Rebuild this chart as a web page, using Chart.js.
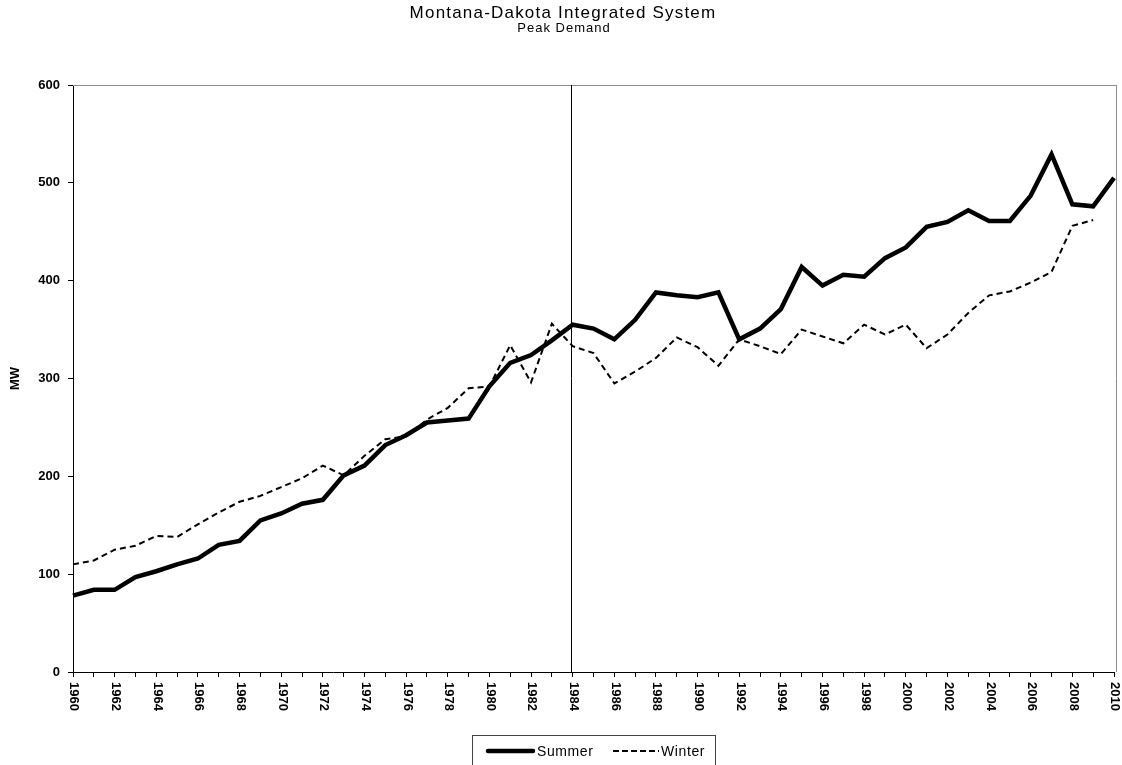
<!DOCTYPE html>
<html>
<head>
<meta charset="utf-8">
<script src="https://cdn.jsdelivr.net/npm/chart.js@4.4.1/dist/chart.umd.min.js"></script>
<style>
html,body{margin:0;padding:0;background:#fff;}
canvas{display:block;}
</style>
</head>
<body>
<canvas id="c" width="1122" height="765"></canvas>
<script>
const years = ['1960','1961','1962','1963','1964','1965','1966','1967','1968','1969',
'1970','1971','1972','1973','1974','1975','1976','1977','1978','1979',
'1980','1981','1982','1983','1984','1985','1986','1987','1988','1989',
'1990','1991','1992','1993','1994','1995','1996','1997','1998','1999',
'2000','2001','2002','2003','2004','2005','2006','2007','2008','2009','2010'];
const summer = [78,84,84,97,103,110,116,130,134,155,
162,172,176,201,211,232,242,255,257,259,
292,316,324,339,355,351,340,360,388,385,
383,388,340,351,371,414,395,406,404,423,
434,455,460,472,461,461,487,529,478,476,505];
const winter = [110,114,125,129,139,138,151,163,174,180,
189,198,211,201,221,238,241,258,270,290,
292,334,296,356,333,326,295,307,321,342,
332,313,340,333,325,350,343,336,355,345,
355,331,345,367,385,389,398,409,456,462,null];
const xTickLabels = ['1960','1962','1964','1966','1968','1970','1972','1974','1976','1978',
'1980','1982','1984','1986','1988','1990','1992','1994','1996','1998',
'2000','2002','2004','2006','2008','2010'];
const markerYear = '1984';
const titleText = 'Montana-Dakota Integrated System';
const subtitleText = 'Peak Demand';
const seriesNames = ['Summer','Winter'];

const FONT = '"Liberation Sans", Arial, sans-serif';

const decor = {
  id: 'decor',
  afterDraw(chart) {
    const ctx = chart.ctx;
    const ca = chart.chartArea;
    const xs = chart.scales.x;
    ctx.save();
    // top & right border
    ctx.strokeStyle = '#8c8c8c';
    ctx.lineWidth = 1;
    ctx.beginPath();
    ctx.moveTo(ca.left, ca.top + 0.5);
    ctx.lineTo(ca.right + 3, ca.top + 0.5);
    ctx.moveTo(ca.right + 2.5, ca.top);
    ctx.lineTo(ca.right + 2.5, ca.bottom);
    ctx.stroke();
    // marker line
    const mx = Math.round(xs.getPixelForValue(years.indexOf(markerYear))) - 1.5;
    ctx.strokeStyle = '#000';
    ctx.beginPath();
    ctx.moveTo(mx, ca.top);
    ctx.lineTo(mx, ca.bottom);
    ctx.stroke();
    // titles
    ctx.fillStyle = '#000';
    ctx.textAlign = 'center';
    ctx.textBaseline = 'middle';
    ctx.font = '17px ' + FONT;
    if ('letterSpacing' in ctx) ctx.letterSpacing = '1.2px';
    ctx.fillText(titleText, 563, 13);
    ctx.font = '13px ' + FONT;
    if ('letterSpacing' in ctx) ctx.letterSpacing = '1px';
    ctx.fillText(subtitleText, 564, 28);
    if ('letterSpacing' in ctx) ctx.letterSpacing = '0px';
    // x labels rotated
    ctx.font = 'bold 13px ' + FONT;
    ctx.textAlign = 'left';
    ctx.textBaseline = 'middle';
    xTickLabels.forEach(lab => {
      const x = xs.getPixelForValue(years.indexOf(lab));
      ctx.save();
      ctx.translate(x + 1, ca.bottom + 10);
      ctx.rotate(Math.PI / 2);
      ctx.fillText(lab, 0, 0);
      ctx.restore();
    });
    // legend
    ctx.strokeStyle = '#444';
    ctx.lineWidth = 1;
    ctx.strokeRect(472.5, 735.5, 243, 40);
    ctx.strokeStyle = '#000';
    ctx.lineWidth = 4.5;
    ctx.lineCap = 'round';
    ctx.beginPath();
    ctx.moveTo(488, 751);
    ctx.lineTo(533, 751);
    ctx.stroke();
    ctx.lineCap = 'butt';
    ctx.lineWidth = 2;
    ctx.setLineDash([6, 3]);
    ctx.beginPath();
    ctx.moveTo(613, 751);
    ctx.lineTo(659, 751);
    ctx.stroke();
    ctx.setLineDash([]);
    ctx.font = '14px ' + FONT;
    if ('letterSpacing' in ctx) ctx.letterSpacing = '0.6px';
    ctx.textAlign = 'left';
    ctx.fillText(seriesNames[0], 537, 752);
    ctx.fillText(seriesNames[1], 661, 752);
    ctx.restore();
  }
};

new Chart(document.getElementById('c'), {
  type: 'line',
  data: {
    labels: years,
    datasets: [
      {label: seriesNames[0], data: summer, borderColor: '#000', borderWidth: 4.5,
       pointRadius: 0, tension: 0, fill: false, borderJoinStyle: 'miter'},
      {label: seriesNames[1], data: winter, borderColor: '#000', borderWidth: 2,
       borderDash: [6, 4], pointRadius: 0, tension: 0, fill: false}
    ]
  },
  options: {
    responsive: false,
    animation: false,
    layout: {padding: {left: 0, right: 8, top: 85, bottom: 0}},
    plugins: {legend: {display: false}, title: {display: false}, tooltip: {enabled: false}},
    scales: {
      x: {
        type: 'category',
        offset: false,
        grid: {display: true, drawOnChartArea: false, drawTicks: true, tickLength: 5, color: '#000'},
        border: {display: true, color: '#000', width: 1},
        ticks: {display: false, autoSkip: false},
        afterFit(s) { s.height = 93; }
      },
      y: {
        min: 0, max: 600,
        grid: {display: true, drawOnChartArea: false, drawTicks: true, tickLength: 5, color: '#000'},
        border: {display: true, color: '#000', width: 1},
        ticks: {stepSize: 100, color: '#000', padding: 8, font: {family: FONT, size: 13, weight: 'bold'}},
        title: {display: true, text: 'MW', color: '#000', padding: {top: 8, bottom: 0},
                font: {family: FONT, size: 13, weight: 'bold'}},
        afterFit(s) { s.width = 73; }
      }
    }
  },
  plugins: [decor]
});
</script>
</body>
</html>
